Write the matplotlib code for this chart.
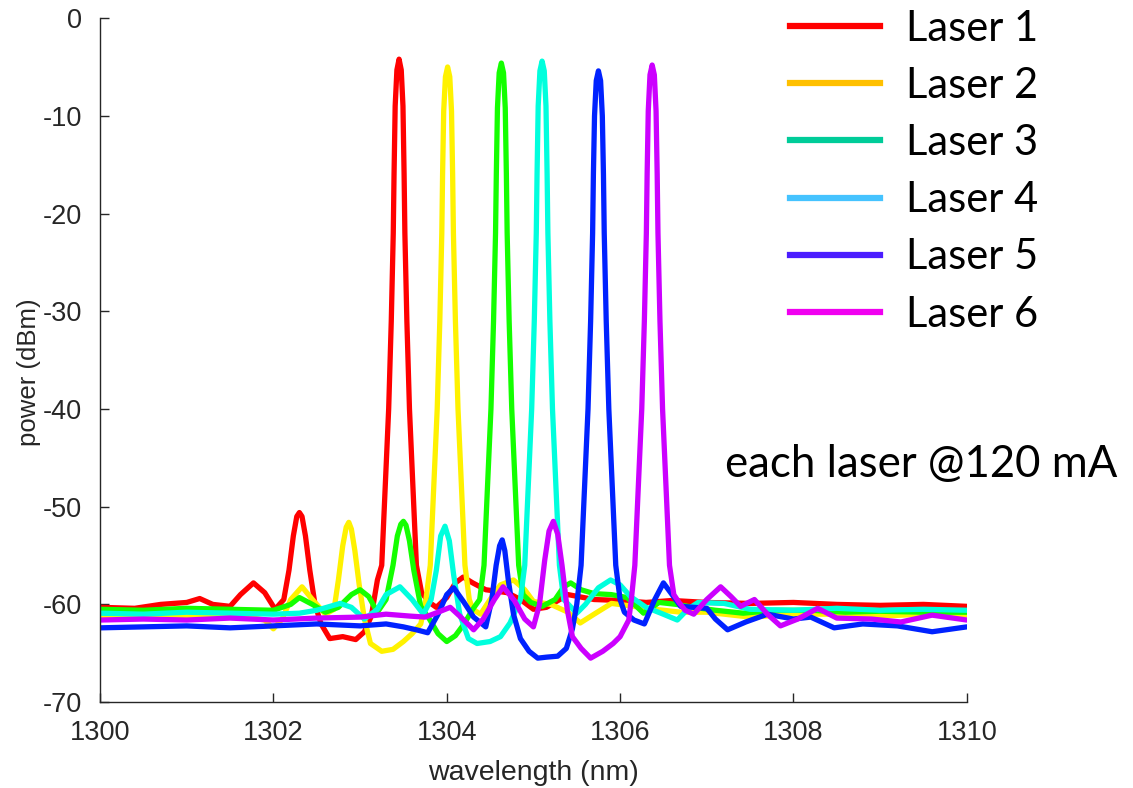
import matplotlib
matplotlib.use('Agg')
import matplotlib.pyplot as plt
from matplotlib.lines import Line2D

# Spectra (wavelength in nm, power in dBm)
laser1_wl = [1300.0, 1300.4, 1300.7, 1301.0, 1301.15, 1301.3, 1301.5, 1301.62, 1301.77, 1301.9,
             1302.02, 1302.12, 1302.18, 1302.23, 1302.27, 1302.3, 1302.33, 1302.37, 1302.42, 1302.48,
             1302.55, 1302.65, 1302.8, 1302.95, 1303.05, 1303.13, 1303.2, 1303.25, 1303.29, 1303.33,
             1303.36, 1303.383, 1303.392, 1303.405, 1303.425, 1303.45, 1303.475, 1303.495, 1303.508, 1303.517,
             1303.54, 1303.57, 1303.61, 1303.65, 1303.71, 1303.8, 1303.88, 1304.0, 1304.1, 1304.19,
             1304.3, 1304.45, 1304.7, 1304.85, 1305.0, 1305.15, 1305.4, 1305.7, 1306.0, 1306.3,
             1306.6, 1307.0, 1307.5, 1308.0, 1308.5, 1309.0, 1309.5, 1310.0]
laser1_dbm = [-60.3, -60.4, -60.0, -59.8, -59.4, -60.0, -60.2, -59.0, -57.8, -58.8,
              -60.5, -59.5, -56.5, -53.0, -51.0, -50.6, -51.0, -53.0, -56.5, -60.0,
              -62.0, -63.5, -63.3, -63.6, -62.8, -61.2, -57.5, -56.0, -48.0, -40.0,
              -31.0, -22.0, -16.0, -9.0, -5.3, -4.2, -5.3, -9.0, -16.0, -22.0,
              -31.0, -40.0, -48.0, -56.0, -58.8, -59.8, -60.3, -59.3, -57.8, -57.2,
              -57.8, -58.5, -58.8, -59.5, -60.5, -60.3, -59.0, -59.5, -59.6, -59.8,
              -59.6, -59.8, -59.9, -59.8, -60.0, -60.1, -60.0, -60.2]

laser2_wl = [1300.0, 1300.5, 1301.0, 1301.5, 1301.9, 1302.0, 1302.1, 1302.2, 1302.33, 1302.45,
             1302.6, 1302.7, 1302.75, 1302.8, 1302.84, 1302.87, 1302.9, 1302.94, 1302.99, 1303.05,
             1303.12, 1303.25, 1303.38, 1303.5, 1303.6, 1303.7, 1303.76, 1303.81, 1303.85, 1303.89,
             1303.92, 1303.943, 1303.952, 1303.965, 1303.985, 1304.01, 1304.035, 1304.055, 1304.068, 1304.077,
             1304.1, 1304.13, 1304.17, 1304.21, 1304.26, 1304.3, 1304.39, 1304.5, 1304.62, 1304.77,
             1304.9, 1305.0, 1305.2, 1305.4, 1305.54, 1305.7, 1305.9, 1306.16, 1306.4, 1306.7,
             1307.0, 1307.2, 1307.5, 1308.0, 1308.5, 1309.0, 1309.5, 1310.0]
laser2_dbm = [-61.2, -61.0, -61.3, -61.0, -61.6, -62.5, -61.5, -59.5, -58.2, -59.5,
              -61.0, -60.5, -57.5, -54.0, -52.1, -51.6, -52.3, -54.5, -58.0, -61.5,
              -64.0, -64.8, -64.6, -63.8, -63.0, -62.0, -59.5, -56.0, -48.0, -40.0,
              -31.0, -22.0, -16.0, -9.5, -6.0, -5.0, -6.0, -9.5, -16.0, -22.0,
              -31.0, -40.0, -48.0, -56.0, -59.5, -60.5, -61.0, -59.5, -58.0, -57.5,
              -58.5, -59.7, -60.0, -60.8, -61.9, -61.0, -59.9, -60.2, -60.5, -60.8,
              -60.8, -61.0, -61.3, -61.0, -61.0, -61.2, -61.0, -61.1]

laser3_wl = [1300.0, 1300.5, 1301.0, 1301.5, 1302.0, 1302.2, 1302.3, 1302.45, 1302.6, 1302.75,
             1302.9, 1303.0, 1303.1, 1303.2, 1303.3, 1303.38, 1303.43, 1303.47, 1303.5, 1303.53,
             1303.57, 1303.62, 1303.7, 1303.8, 1303.9, 1304.0, 1304.1, 1304.2, 1304.3, 1304.38,
             1304.43, 1304.47, 1304.51, 1304.54, 1304.563, 1304.572, 1304.585, 1304.605, 1304.63, 1304.655,
             1304.675, 1304.688, 1304.697, 1304.72, 1304.75, 1304.79, 1304.83, 1304.88, 1304.97, 1305.1,
             1305.25, 1305.35, 1305.43, 1305.55, 1305.7, 1305.9, 1306.08, 1306.2, 1306.27, 1306.45,
             1306.65, 1306.85, 1307.1, 1307.42, 1307.8, 1308.2, 1308.6, 1309.0, 1309.5, 1310.0]
laser3_dbm = [-60.5, -60.6, -60.4, -60.5, -60.6, -60.0, -59.3, -60.0, -60.8, -60.3,
              -59.0, -58.5, -59.2, -60.8, -59.5, -56.0, -53.0, -51.8, -51.5, -51.9,
              -53.5, -56.5, -60.2, -61.5, -63.0, -63.8, -63.2, -62.0, -60.5, -59.5,
              -56.0, -48.0, -40.0, -31.0, -22.0, -16.0, -9.2, -5.6, -4.6, -5.6,
              -9.2, -16.0, -22.0, -31.0, -40.0, -48.0, -56.0, -59.0, -59.8, -60.2,
              -59.5, -58.2, -57.8, -58.5, -58.9, -59.0, -59.3, -60.3, -60.9, -59.8,
              -60.0, -60.3, -60.6, -60.9, -60.6, -60.6, -60.8, -60.7, -60.8, -60.8]

laser4_wl = [1300.0, 1300.5, 1301.0, 1301.5, 1302.0, 1302.3, 1302.5, 1302.77, 1302.9, 1303.05,
             1303.2, 1303.3, 1303.46, 1303.6, 1303.73, 1303.82, 1303.88, 1303.93, 1303.98, 1304.03,
             1304.08, 1304.15, 1304.25, 1304.35, 1304.5, 1304.62, 1304.73, 1304.8, 1304.85, 1304.9,
             1304.94, 1304.98, 1305.01, 1305.033, 1305.042, 1305.055, 1305.075, 1305.1, 1305.125, 1305.145,
             1305.158, 1305.167, 1305.19, 1305.22, 1305.26, 1305.3, 1305.35, 1305.5, 1305.6, 1305.75,
             1305.89, 1306.0, 1306.12, 1306.3, 1306.47, 1306.66, 1306.78, 1306.9, 1307.2, 1307.5,
             1308.0, 1308.5, 1309.0, 1309.5, 1310.0]
laser4_dbm = [-60.9, -61.0, -60.8, -60.9, -61.0, -60.9, -60.6, -59.9, -60.3, -61.5,
              -60.5, -59.0, -58.2, -59.5, -61.0, -59.5, -56.5, -53.0, -52.0, -53.5,
              -57.0, -61.0, -63.5, -64.0, -63.8, -63.3, -61.9, -60.5, -59.5, -56.0,
              -48.0, -40.0, -31.0, -22.0, -16.0, -9.0, -5.4, -4.4, -5.4, -9.0,
              -16.0, -22.0, -31.0, -40.0, -48.0, -56.0, -59.5, -60.9, -60.0, -58.3,
              -57.5, -58.0, -59.2, -60.3, -60.9, -61.6, -60.5, -59.8, -59.9, -60.5,
              -60.6, -60.4, -60.6, -60.5, -60.6]

laser5_wl = [1300.0, 1300.5, 1301.0, 1301.5, 1302.0, 1302.5, 1303.0, 1303.3, 1303.5, 1303.65,
             1303.78, 1303.9, 1304.0, 1304.08, 1304.2, 1304.31, 1304.45, 1304.52, 1304.57, 1304.61,
             1304.64, 1304.67, 1304.71, 1304.77, 1304.85, 1304.95, 1305.05, 1305.15, 1305.28, 1305.38,
             1305.45, 1305.5, 1305.55, 1305.59, 1305.63, 1305.66, 1305.683, 1305.692, 1305.705, 1305.725,
             1305.75, 1305.775, 1305.795, 1305.808, 1305.817, 1305.84, 1305.87, 1305.91, 1305.95, 1306.0,
             1306.05, 1306.16, 1306.28, 1306.4, 1306.5, 1306.6, 1306.7, 1307.0, 1307.1, 1307.24,
             1307.45, 1307.7, 1308.0, 1308.2, 1308.47, 1308.8, 1309.2, 1309.6, 1310.0]
laser5_dbm = [-62.4, -62.3, -62.2, -62.4, -62.2, -62.0, -62.2, -62.0, -62.3, -62.6,
              -62.9, -61.0, -59.0, -58.3, -59.8, -61.3, -62.3, -59.5, -56.0, -54.0,
              -53.4, -54.5, -57.5, -61.0, -63.5, -64.8, -65.5, -65.4, -65.3, -64.5,
              -62.5, -60.0, -56.0, -48.0, -40.0, -31.0, -22.0, -16.0, -10.0, -6.4,
              -5.4, -6.4, -10.0, -16.0, -22.0, -31.0, -40.0, -48.0, -56.0, -59.5,
              -60.8, -61.6, -62.0, -59.5, -57.8, -59.0, -60.2, -60.4, -61.5, -62.6,
              -61.8, -61.0, -61.5, -61.3, -62.4, -62.0, -62.2, -62.8, -62.3]

laser6_wl = [1300.0, 1300.5, 1301.0, 1301.5, 1302.0, 1302.5, 1303.0, 1303.3, 1303.58, 1303.75,
             1303.9, 1304.04, 1304.15, 1304.31, 1304.42, 1304.55, 1304.65, 1304.78, 1304.9, 1305.0,
             1305.07, 1305.13, 1305.18, 1305.23, 1305.28, 1305.33, 1305.39, 1305.45, 1305.55, 1305.66,
             1305.8, 1305.92, 1306.0, 1306.1, 1306.13, 1306.17, 1306.21, 1306.25, 1306.28, 1306.303,
             1306.312, 1306.325, 1306.345, 1306.37, 1306.395, 1306.415, 1306.428, 1306.437, 1306.46, 1306.49,
             1306.53, 1306.57, 1306.62, 1306.68, 1306.75, 1306.85, 1307.0, 1307.16, 1307.28, 1307.39,
             1307.55, 1307.7, 1307.85, 1308.05, 1308.28, 1308.5, 1308.9, 1309.24, 1309.6, 1310.0]
laser6_dbm = [-61.6, -61.5, -61.6, -61.4, -61.6, -61.4, -61.3, -61.0, -61.2, -61.3,
              -60.8, -60.3, -61.2, -62.6, -61.5, -59.5, -58.2, -59.6, -61.5, -62.3,
              -60.0, -55.5, -52.5, -51.5, -52.8, -56.0, -60.5, -63.3, -64.5, -65.5,
              -64.8, -64.0, -63.3, -61.6, -59.5, -56.0, -48.0, -40.0, -31.0, -22.0,
              -16.0, -9.5, -5.8, -4.8, -5.8, -9.5, -16.0, -22.0, -31.0, -40.0,
              -48.0, -56.0, -59.0, -59.8, -60.6, -61.0, -59.5, -58.2, -59.2, -60.2,
              -59.5, -61.0, -62.2, -61.5, -60.4, -61.4, -61.5, -61.8, -61.1, -61.6]

series = [(laser1_wl, laser1_dbm), (laser2_wl, laser2_dbm), (laser3_wl, laser3_dbm),
          (laser4_wl, laser4_dbm), (laser5_wl, laser5_dbm), (laser6_wl, laser6_dbm)]
line_colors = ['#ff0000', '#fff200', '#14ff00', '#00ffdd', '#0022ff', '#cc00ff']
legend_colors = ['#ff0000', '#ffc000', '#00cc99', '#45c3ff', '#4b1dff', '#f000f0']
legend_labels = ['Laser 1', 'Laser 2', 'Laser 3', 'Laser 4', 'Laser 5', 'Laser 6']

x_ticks = [1300, 1302, 1304, 1306, 1308, 1310]
y_ticks = [-70, -60, -50, -40, -30, -20, -10, 0]

plt.rcParams['axes.unicode_minus'] = False
axis_color = '#262626'

fig = plt.figure(figsize=(11.33, 7.88), dpi=100)
ax = fig.add_axes([0.0883, 0.109, 0.765, 0.868])

for (wl, p), c in zip(series, line_colors):
    ax.plot(wl, p, color=c, lw=3.8, solid_joinstyle='round', solid_capstyle='round')

ax.set_xlim(1300, 1310)
ax.set_ylim(-70, 0)
ax.set_xticks(x_ticks)
ax.set_yticks(y_ticks)

for s in ['top', 'right']:
    ax.spines[s].set_visible(False)
for s in ['left', 'bottom']:
    ax.spines[s].set_color(axis_color)
    ax.spines[s].set_linewidth(1.0)

ax.tick_params(direction='in', length=6.5, width=1.0, color=axis_color,
               labelcolor=axis_color, labelsize=19.5, pad=13)
for lab in ax.get_xticklabels() + ax.get_yticklabels():
    lab.set_family('Liberation Sans')

ax.set_xlabel('wavelength (nm)', fontsize=20.5, color=axis_color, family='Liberation Sans', labelpad=10)
ax.set_ylabel('power (dBm)', fontsize=18.5, color=axis_color, family='Liberation Sans')
ax.yaxis.set_label_coords(-0.068, 0.482)

handles = [Line2D([], [], color=c, lw=4.5) for c in legend_colors]
fig.legend(handles, legend_labels, loc='upper right', bbox_to_anchor=(0.92, 0.993),
           frameon=False, prop={'family': 'Lato', 'size': 30},
           borderpad=0.1, borderaxespad=0.0,
           handlelength=2.16, handletextpad=0.62, labelspacing=0.46)

fig.text(725 / 1133, 1 - 465 / 788, 'each laser @120 mA', family='Lato', fontsize=31.5,
         ha='left', va='center', color='black')

plt.savefig('out.png', dpi=100)
